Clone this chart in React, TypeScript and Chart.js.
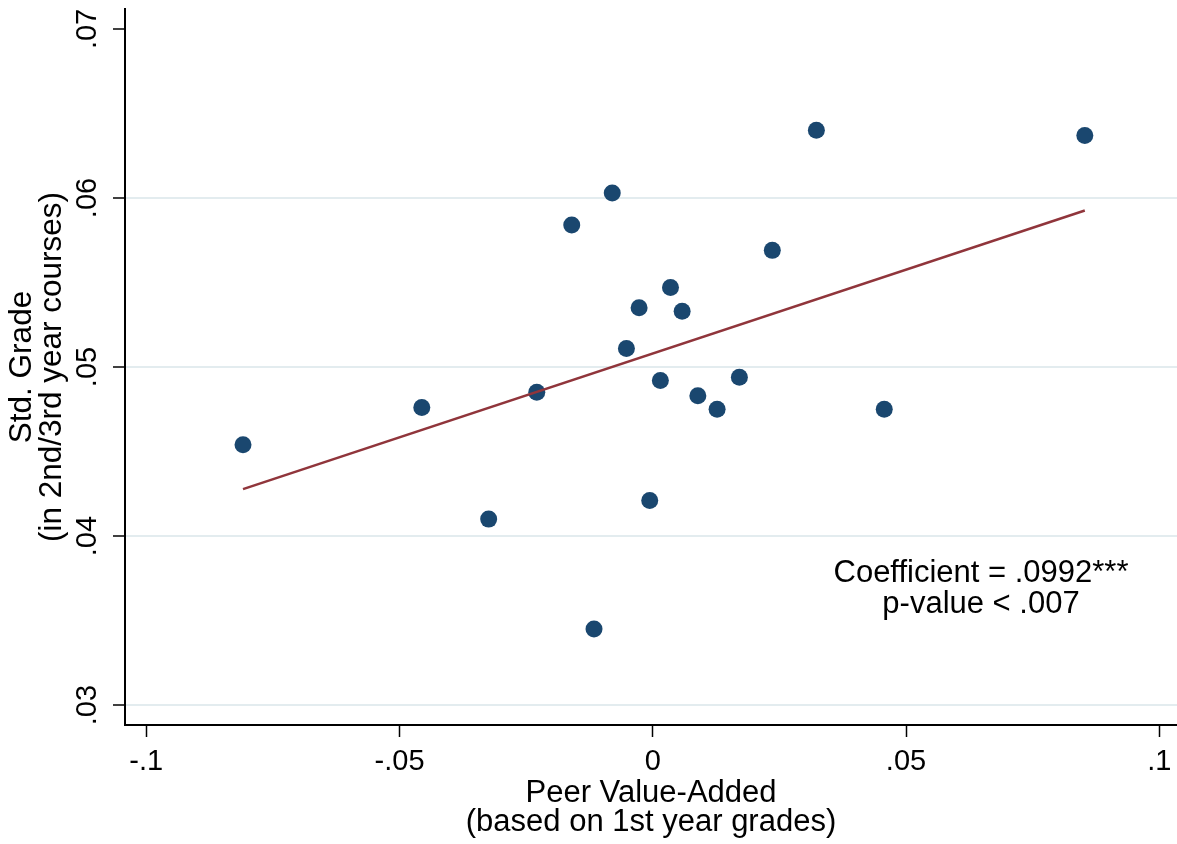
import React, { useEffect, useRef } from "react";
import { Chart, registerables } from "chart.js";

Chart.register(...registerables);

// Peer value-added (x) and standardized later-year grade (y), one entry per group
const peerValueAdded = [
  -0.0809, -0.0456, -0.0324, -0.0229, -0.016, -0.008, -0.0116, -0.0052, -0.0027, 0.0035,
  0.0058, 0.0015, 0.0089, 0.0127, 0.0171, -0.0006, 0.0236, 0.0323, 0.0457, 0.0853,
];
const stdGrade = [
  0.0454, 0.0476, 0.041, 0.0485, 0.0584, 0.0603, 0.0345, 0.0511, 0.0535, 0.0547,
  0.0533, 0.0492, 0.0483, 0.0475, 0.0494, 0.0421, 0.0569, 0.064, 0.0475, 0.0637,
];

// Linear fit: slope is the reported coefficient
const fitSlope = 0.0992;
const fitIntercept = 0.0508;

const xTicks = [-0.1, -0.05, 0, 0.05, 0.1];
const yTicks = [0.03, 0.04, 0.05, 0.06, 0.07];
const yGridTicks = [0.03, 0.04, 0.05, 0.06];

const xTitleLines = ["Peer Value-Added", "(based on 1st year grades)"];
const yTitleLines = ["Std. Grade", "(in 2nd/3rd year courses)"];
const noteLines = ["Coefficient = .0992***", "p-value < .007"];

const FONT = '"Liberation Sans", Arial, Helvetica, sans-serif';
const MARKER = "#1a476f";
const FIT = "#90353b";
const GRID = "#e3ecef";

// Stata-style labels: ".05", "-.1", "0"
const fmt = (v: number) => {
  if (Math.abs(v) < 1e-12) return "0";
  const s = Math.abs(v).toFixed(2).replace(/^0/, "").replace(/0$/, "");
  return (v < 0 ? "-" : "") + s;
};

const textPlugin = {
  id: "axisTexts",
  afterDraw(chart: any) {
    const { ctx, chartArea } = chart;
    const { left, right, top, bottom } = chartArea;
    ctx.save();
    ctx.fillStyle = "#000";
    ctx.textAlign = "center";
    ctx.textBaseline = "middle";

    // x-axis title
    ctx.font = `31px ${FONT}`;
    const cx = (left + right) / 2;
    ctx.fillText(xTitleLines[0], cx, bottom + 68);
    ctx.fillText(xTitleLines[1], cx, bottom + 97);

    // y-axis title (rotated)
    const cy = (top + bottom) / 2;
    ctx.font = `31.5px ${FONT}`;
    ctx.save();
    ctx.translate(22, cy);
    ctx.rotate(-Math.PI / 2);
    ctx.fillText(yTitleLines[0], 0, 0);
    ctx.restore();
    ctx.save();
    ctx.translate(52, cy);
    ctx.rotate(-Math.PI / 2);
    ctx.fillText(yTitleLines[1], 0, 0);
    ctx.restore();

    // regression note
    ctx.font = `31px ${FONT}`;
    const nx = right - 196;
    ctx.fillText(noteLines[0], nx, bottom - 152);
    ctx.fillText(noteLines[1], nx, bottom - 121);
    ctx.restore();
  },
};

export default function App() {
  const canvasRef = useRef<HTMLCanvasElement | null>(null);

  useEffect(() => {
    document.body.style.margin = "0";
    const canvas = canvasRef.current;
    if (!canvas) return;

    const xMin = Math.min(...peerValueAdded);
    const xMax = Math.max(...peerValueAdded);
    const fitLine = [xMin, xMax].map((x) => ({ x, y: fitIntercept + fitSlope * x }));
    const points = peerValueAdded.map((x, i) => ({ x, y: stdGrade[i] }));

    const chart = new Chart(canvas, {
      type: "scatter",
      data: {
        datasets: [
          {
            type: "line",
            data: fitLine,
            borderColor: FIT,
            borderWidth: 2.5,
            pointRadius: 0,
            showLine: true,
            fill: false,
            order: 0,
          } as any,
          {
            type: "scatter",
            data: points,
            backgroundColor: MARKER,
            borderWidth: 0,
            pointRadius: 8.5,
            pointHoverRadius: 8.5,
            order: 1,
          },
        ],
      },
      options: {
        responsive: false,
        animation: false,
        events: [],
        layout: { autoPadding: false, padding: { top: 9, left: 0, right: 0, bottom: 0 } },
        plugins: {
          legend: { display: false },
          tooltip: { enabled: false },
          title: { display: false },
        },
        scales: {
          x: {
            type: "linear",
            min: -0.1042,
            max: 0.1035,
            afterBuildTicks: (scale: any) => {
              scale.ticks = xTicks.map((value) => ({ value }));
            },
            afterFit: (scale: any) => {
              scale.height = 119;
              scale.paddingLeft = 0;
              scale.paddingRight = 0;
            },
            grid: {
              drawOnChartArea: false,
              drawTicks: true,
              tickLength: 12,
              tickColor: "#000",
              tickWidth: 1.5,
            },
            border: { display: true, color: "#000", width: 2 },
            ticks: {
              color: "#000",
              font: { family: FONT, size: 29 },
              padding: 8,
              maxRotation: 0,
              autoSkip: false,
              callback: (v: any) => fmt(Number(v)),
            },
          },
          y: {
            type: "linear",
            min: 0.02882,
            max: 0.07118,
            afterBuildTicks: (scale: any) => {
              scale.ticks = yTicks.map((value) => ({ value }));
            },
            afterFit: (scale: any) => {
              scale.width = 125;
              scale.paddingTop = 0;
              scale.paddingBottom = 0;
            },
            grid: {
              drawOnChartArea: true,
              drawTicks: true,
              tickLength: 12,
              tickColor: "#000",
              tickWidth: 1.5,
              lineWidth: 2,
              color: (c: any) =>
                yGridTicks.some((t) => Math.abs(t - (c.tick ? c.tick.value : NaN)) < 1e-9)
                  ? GRID
                  : "rgba(0,0,0,0)",
            },
            border: { display: true, color: "#000", width: 2 },
            ticks: {
              color: "#000",
              font: { family: FONT, size: 29 },
              padding: 5,
              minRotation: 90,
              maxRotation: 90,
              crossAlign: "center",
              autoSkip: false,
              callback: (v: any) => fmt(Number(v)),
            },
          },
        },
      },
      plugins: [textPlugin],
    });

    return () => chart.destroy();
  }, []);

  return (
    <div style={{ width: 1177, height: 844, background: "#fff" }}>
      <canvas ref={canvasRef} width={1177} height={844} style={{ display: "block" }} />
    </div>
  );
}
